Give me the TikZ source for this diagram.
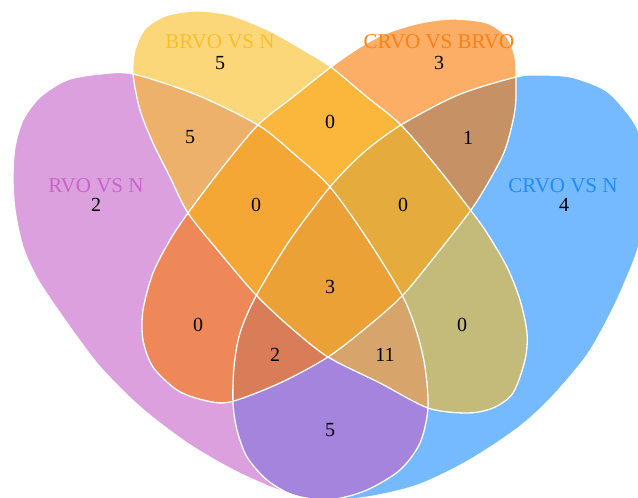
\documentclass[tikz,border=0pt]{standalone}
\usepackage{fontspec}
\setmainfont{Liberation Serif}
\definecolor{blueC}{RGB}{25,138,255}
\definecolor{purpleC}{RGB}{197,97,200}
\definecolor{orangeC}{RGB}{252,120,0}
\definecolor{yellowC}{RGB}{250,188,33}
\definecolor{labY}{RGB}{250,190,40}
\definecolor{labO}{RGB}{255,128,20}
\definecolor{labP}{RGB}{200,100,200}
\definecolor{labB}{RGB}{30,140,255}
\begin{document}
\begin{tikzpicture}[x=1pt,y=-1pt,
  setfill/.style={fill=#1, fill opacity=0.6, draw=none},
  outline/.style={draw=white, line width=1.3pt},
  num/.style={font=\fontsize{20}{20}\selectfont, text=black, inner sep=0pt},
  lab/.style={font=\fontsize{21}{21}\selectfont, inner sep=0pt}]
\useasboundingbox (0,0) rectangle (638,498);
\clip (0,0) rectangle (638,498);
\def\purplepath{plot[smooth cycle] coordinates {(133,74) (100,74) (67,80) (40,97) (23,120) (15,147) (13,177) (15,210) (23,247) (38,280) (67,323) (100,367) (140,407) (187,443) (233,470) (273,488) (305,498) (335,499) (367,490) (400,470) (420,443) (428,408) (425,367) (417,333) (403,297) (368,240) (330,187) (293,153) (258,125) (197,95)}}
\def\bluepath{plot[smooth cycle] coordinates {(516,77) (538,75) (571,77) (605,90) (625,110) (638,130) (645,160) (647,195) (643,225) (636,255) (618,298) (603,328) (585,358) (551,398) (518,428) (468,461) (418,485) (368,497) (325,500) (293,495) (267,480) (247,457) (237,430) (233,403) (234,367) (240,333) (256,296) (290,240) (330,187) (363,153) (401,125) (458,95)}}
\def\yellowpath{plot[smooth cycle] coordinates {(133,74) (135,50) (145,29) (165,16) (195,11) (230,15) (270,31) (307,52) (331,67) (367,97) (401,125) (437,167) (472,212) (487,233) (507,267) (520,300) (527,333) (525,360) (513,393) (493,408) (467,413) (428,408) (380,383) (328,357) (290,327) (256,295) (220,253) (188,213) (170,177) (153,143) (140,110)}}
\def\orangepath{plot[smooth cycle] coordinates {(516,77) (515,57) (507,37) (487,23) (453,19) (420,23) (387,33) (360,47) (331,67) (293,97) (258,125) (222,168) (188,213) (170,240) (153,273) (143,310) (143,340) (153,367) (177,390) (203,400) (230,402) (280,383) (328,357) (367,327) (403,295) (440,250) (471,210) (488,183) (505,150) (515,110)}}
\path[setfill=blueC] \bluepath;
\path[setfill=purpleC] \purplepath;
\path[setfill=orangeC] \orangepath;
\path[setfill=yellowC] \yellowpath;
\draw[outline] \bluepath;
\draw[outline] \purplepath;
\draw[outline] \orangepath;
\draw[outline] \yellowpath;
% set labels
\node[lab, text=labY] (labY) at (220,42) {BRVO VS N};
\node[lab, text=labO] (labO) at (439,42) {CRVO VS BRVO};
\node[lab, text=labP] (labP) at (96,186) {RVO VS N};
\node[lab, text=labB] (labB) at (563,186) {CRVO VS N};
% counts
\node[num] (nY) at (220,63) {5};
\node[num] (nO) at (439,63) {3};
\node[num] (nP) at (96,205) {2};
\node[num] (nB) at (564,205) {4};
\node[num] (nYO) at (330,122) {0};
\node[num] (nPY) at (190,137) {5};
\node[num] (nOB) at (468,138) {1};
\node[num] (nPYO) at (256,205) {0};
\node[num] (nYOB) at (403,205) {0};
\node[num] (nAll) at (330,287) {3};
\node[num] (nPO) at (198,325) {0};
\node[num] (nYB) at (462,325) {0};
\node[num] (nPOB) at (275,355) {2};
\node[num] (nPYB) at (385,355) {11};
\node[num] (nPB) at (330,430) {5};
\end{tikzpicture}
\end{document}
